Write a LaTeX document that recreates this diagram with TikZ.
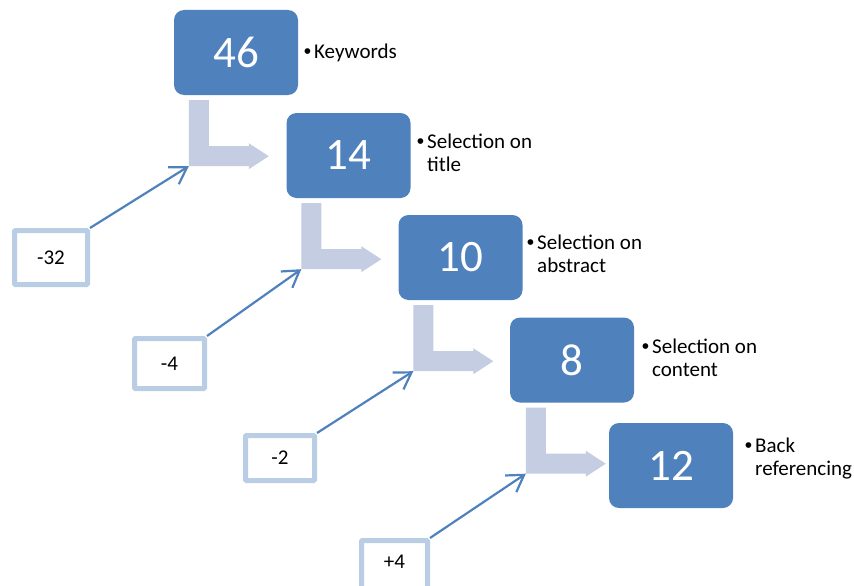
\documentclass[tikz,border=0pt]{standalone}
\usepackage{fontspec}
\setmainfont{Carlito}
\newfontfamily\bulletfont{Liberation Sans}
\usetikzlibrary{arrows.meta,calc}
\definecolor{boxblue}{RGB}{79,129,189}
\definecolor{bentc}{RGB}{196,205,226}
\definecolor{smallc}{RGB}{185,205,229}
\newcommand{\bentshape}[2]{%
  \begin{scope}[shift={#1}]
    \fill[bentc] (0,0) -- (20,0) -- (20,46) -- (60,46) -- (60,43) -- (80,56)
      -- (60,69) -- (60,66) -- (0,66) -- cycle;
    \coordinate (#2) at (0,66);
  \end{scope}}
\begin{document}
\begin{tikzpicture}[x=1pt,y=-1pt,
  numbox/.style={draw=none, fill=boxblue, rounded corners=10pt,
    minimum width=124pt, minimum height=85pt, text=white,
    font=\fontsize{45}{54}\selectfont, inner sep=0pt},
  deltabox/.style={draw=smallc, line width=5pt, fill=white, rounded corners=1pt,
    font=\fontsize{21}{24}\selectfont, inner sep=0pt},
  thinarrow/.style={draw=boxblue, line width=2.2pt,
    -{Straight Barb[length=16pt,width=20pt,line width=2.2pt]}},
  steplabel/.style={anchor=base west, align=left, inner sep=0pt,
    font=\fontsize{21}{23}\selectfont}
]
\useasboundingbox (0,0) rectangle (854,586);
\clip (0,0) rectangle (854,586);

% number boxes
\node[numbox] (b1) at (236,52.5) {46};
\node[numbox] (b2) at (348.5,155.5) {14};
\node[numbox] (b3) at (460.5,257.5) {10};
\node[numbox] (b4) at (572,360) {8};
\node[numbox] (b5) at (671,465.5) {12};

% bent arrows between boxes
\bentshape{($(b1.south west)+(15,5)$)}{c1}
\bentshape{($(b2.south west)+(15,5)$)}{c2}
\bentshape{($(b3.south west)+(15,5)$)}{c3}
\bentshape{($(b4.south west)+(16,5)$)}{c4}

% difference boxes
\node[deltabox, minimum width=73pt, minimum height=54pt] (s1) at (51,257.5) {-32};
\node[deltabox, minimum width=70pt, minimum height=50pt] (s2) at (169.5,363.5) {-4};
\node[deltabox, minimum width=69pt, minimum height=45pt] (s3) at (280,458) {-2};
\node[deltabox, minimum width=66pt, minimum height=53pt, text depth=0pt] (s4) at (394.5,567) {\raisebox{10pt}{+4}};

% thin arrows
\draw[thinarrow] (s1.north east) -- (c1);
\draw[thinarrow] (s2.north east) -- (c2);
\draw[thinarrow] (s3.north east) -- (c3);
\draw[thinarrow] (s4.north east) -- (c4);

% labels
\node[steplabel] (t1) at (314,59) {\llap{{\bulletfont •}\hspace{3pt}}Keywords};
\node[steplabel] (t2) at (427,171) {\llap{{\bulletfont •}\hspace{3pt}}Selection on\\title};
\node[steplabel] (t3) at (537,272) {\llap{{\bulletfont •}\hspace{3pt}}Selection on\\abstract};
\node[steplabel] (t4) at (652,376) {\llap{{\bulletfont •}\hspace{3pt}}Selection on\\content};
\node[steplabel] (t5) at (755,475) {\llap{{\bulletfont •}\hspace{3pt}}Back\\referencing};
\end{tikzpicture}
\end{document}
